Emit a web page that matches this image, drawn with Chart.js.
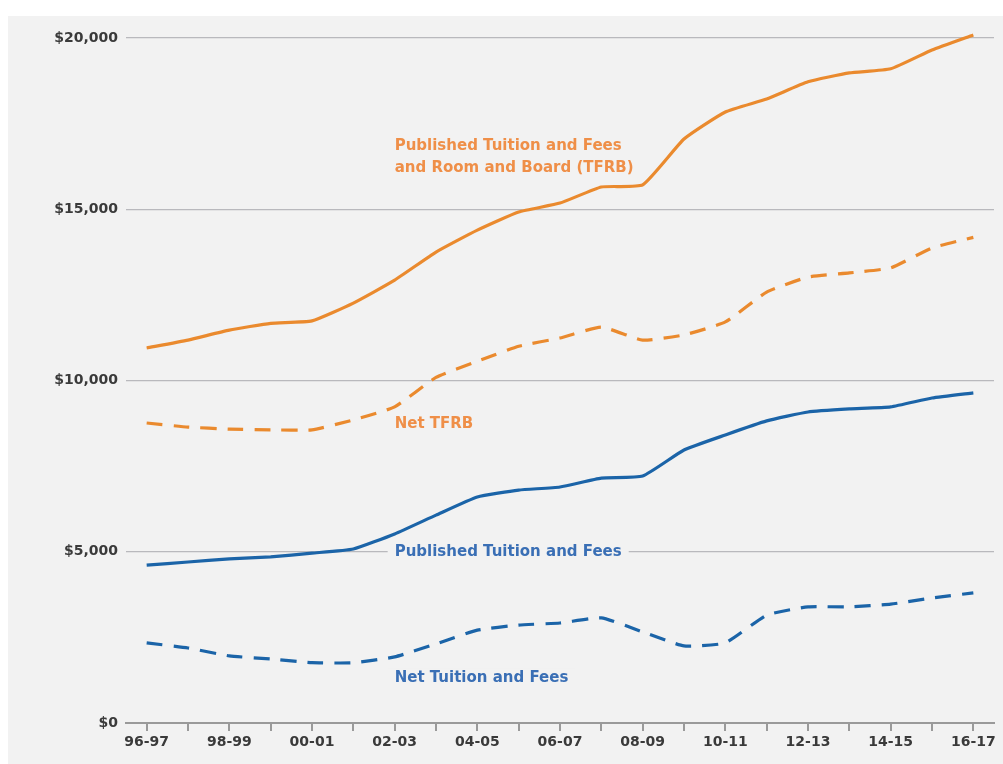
<!DOCTYPE html>
<html>
<head>
<meta charset="utf-8">
<script src="https://cdn.jsdelivr.net/npm/chart.js@4.4.1/dist/chart.umd.min.js"></script>
<style>
  html, body { margin: 0; padding: 0; background: #fff; }
  #wrap { position: absolute; left: 8px; top: 16px; width: 995px; height: 748px; background: #f2f2f2; }
  canvas { display: block; }
</style>
</head>
<body>
<div id="wrap"><canvas id="chart" width="995" height="748"></canvas></div>
<script>
const years = ["96-97","97-98","98-99","99-00","00-01","01-02","02-03","03-04","04-05","05-06",
  "06-07","07-08","08-09","09-10","10-11","11-12","12-13","13-14","14-15","15-16","16-17"];

const publishedTFRB = [10950, 11180, 11470, 11670, 11740, 12260, 12930, 13750, 14390, 14920,
  15180, 15650, 15710, 17050, 17840, 18220, 18720, 18980, 19100, 19650, 20090];
const netTFRB = [8760, 8640, 8580, 8560, 8560, 8850, 9230, 10090, 10560, 11000,
  11240, 11560, 11180, 11330, 11710, 12580, 13020, 13140, 13290, 13870, 14180];
const publishedTF = [4610, 4700, 4790, 4850, 4960, 5080, 5520, 6070, 6600, 6800,
  6890, 7150, 7210, 7970, 8410, 8820, 9080, 9170, 9230, 9490, 9640];
const netTF = [2340, 2190, 1960, 1870, 1760, 1760, 1930, 2310, 2710, 2860,
  2920, 3070, 2660, 2250, 2340, 3150, 3390, 3390, 3470, 3650, 3800];

const yTicks = [0, 5000, 10000, 15000, 20000];

const ORANGE = "#ea8a2e", ORANGE_TXT = "#ef8f48";
const BLUE = "#1b64a8", BLUE_TXT = "#3a6fb5";
const BG = "#f2f2f2";

// callouts: anchored to a category and a dollar value
const callouts = [
  { lines: ["Published Tuition and Fees", "and Room and Board (TFRB)"], at: "02-03", value: 16850, color: ORANGE_TXT },
  { lines: ["Net TFRB"], at: "02-03", value: 8730, color: ORANGE_TXT },
  { lines: ["Published Tuition and Fees"], at: "02-03", value: 5000, color: BLUE_TXT },
  { lines: ["Net Tuition and Fees"], at: "02-03", value: 1320, color: BLUE_TXT },
];

const calloutPlugin = {
  id: "callouts",
  beforeDatasetsDraw(chart) {
    const { ctx, scales: { x, y } } = chart;
    ctx.save();
    ctx.font = "bold 15px 'DejaVu Sans'";
    ctx.textBaseline = "middle";
    ctx.textAlign = "left";
    const lh = 22;
    callouts.forEach(c => {
      const px = x.getPixelForValue(years.indexOf(c.at));
      const py = y.getPixelForValue(c.value);
      c.lines.forEach((t, i) => {
        const ty = py + i * lh;
        const w = ctx.measureText(t).width;
        ctx.fillStyle = BG;
        ctx.fillRect(px - 7, ty - 9, w + 14, 18);
        ctx.fillStyle = c.color;
        ctx.fillText(t, px, ty);
      });
    });
    ctx.restore();
  }
};

const line = (data, color, dashed) => ({
  data,
  borderColor: color,
  borderWidth: 3.2,
  borderDash: dashed ? [16, 11] : [],
  borderCapStyle: "butt",
  borderJoinStyle: "round",
  pointRadius: 0,
  tension: 0.15,
  clip: false,
  fill: false,
});

new Chart(document.getElementById("chart"), {
  type: "line",
  data: {
    labels: years,
    datasets: [
      line(publishedTFRB, ORANGE, false),
      line(netTFRB, ORANGE, true),
      line(publishedTF, BLUE, false),
      line(netTF, BLUE, true),
    ]
  },
  options: {
    responsive: false,
    animation: false,
    layout: { padding: { top: 22, right: 9, left: 0, bottom: 0 } },
    plugins: { legend: { display: false }, tooltip: { enabled: false } },
    scales: {
      x: {
        offset: true,
        grid: { display: true, drawOnChartArea: false, drawTicks: true, tickLength: 8, color: "#9a9a9a", lineWidth: 2, offset: false },
        border: { display: true, color: "#9a9a9a", width: 2 },
        ticks: {
          autoSkip: false, maxRotation: 0, padding: 3,
          color: "#3a3a3a", font: { family: "'DejaVu Sans'", size: 14, weight: "bold" },
          callback: (v, i) => i % 2 === 0 ? years[i] : ""
        },
        afterFit: s => { s.height = 41; }
      },
      y: {
        min: 0, max: 20000,
        afterBuildTicks: s => { s.ticks = yTicks.map(v => ({ value: v })); },
        grid: { color: ctx => ctx.tick && ctx.tick.value === 0 ? "rgba(0,0,0,0)" : "#b9b9bd", lineWidth: 1.3, drawTicks: false },
        border: { display: false },
        ticks: {
          padding: 8, color: "#3a3a3a", font: { family: "'DejaVu Sans'", size: 14, weight: "bold" },
          callback: v => "$" + v.toLocaleString("en-US")
        },
        afterFit: s => { s.width = 118; }
      }
    }
  },
  plugins: [calloutPlugin]
});
</script>
</body>
</html>
